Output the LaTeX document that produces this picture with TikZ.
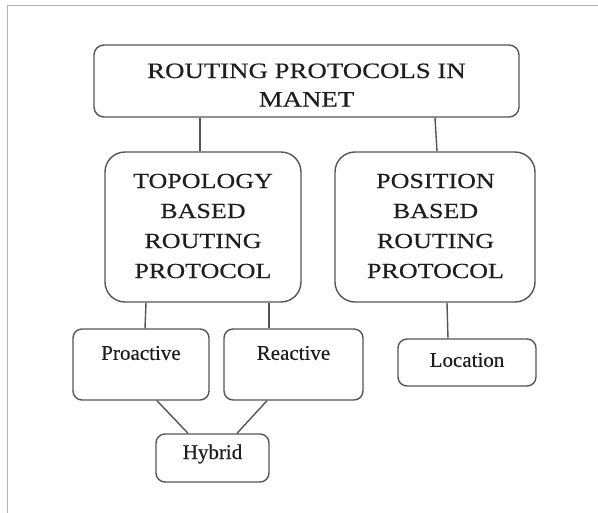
\documentclass[tikz,border=0pt]{standalone}
\usepackage{fontspec}
\setmainfont[FakeBold=0.35]{Liberation Serif}
\newfontfamily\widefont[FakeStretch=1.21,FakeBold=0.35]{Liberation Serif}
\newfontfamily\topfont[FakeStretch=1.22,FakeBold=0.35]{Liberation Serif}
\definecolor{linec}{HTML}{555555}
\definecolor{framec}{HTML}{B4B4B4}
\definecolor{txtc}{HTML}{1E1E1E}
\begin{document}
\begin{tikzpicture}[x=1pt,y=-1pt,
  bigbox/.style={draw=linec, line width=1.4pt, rounded corners=10pt, inner sep=0pt},
  midbox/.style={draw=linec, line width=1.4pt, rounded corners=20pt, inner sep=0pt, minimum width=196pt, minimum height=150pt},
  smallbox/.style={draw=linec, line width=1.4pt, rounded corners=9pt, inner sep=0pt},
  toptxt/.style={text=txtc, align=center, font=\topfont\fontsize{22}{28.5}\selectfont, inner sep=0pt},
  midtxt/.style={text=txtc, align=center, font=\widefont\fontsize{21.5}{30}\selectfont, inner sep=0pt},
  lowtxt/.style={text=txtc, align=center, font=\fontsize{21}{25}\selectfont, inner sep=0pt},
  conn/.style={draw=linec, line width=1.4pt}]
\useasboundingbox (0,0) rectangle (598,513);
% frame
\draw[framec, line width=1.6pt] (7.5,513) -- (7.5,5.5) -- (598,5.5);
% top
\node[bigbox, minimum width=425pt, minimum height=72pt] (top) at (306.5,81) {};
\node[toptxt] (toplbl) at (306.5,85) {ROUTING PROTOCOLS IN\\MANET};
% middle
\node[midbox] (topo) at (203,227) {};
\node[midtxt] (topolbl) at (203,226) {TOPOLOGY\\BASED\\ROUTING\\PROTOCOL};
\node[midbox, minimum width=200pt] (pos) at (435,227) {};
\node[midtxt] (poslbl) at (435.5,226) {POSITION\\BASED\\ROUTING\\PROTOCOL};
% bottom
\node[smallbox, minimum width=136pt, minimum height=71pt] (pro) at (141,364.5) {};
\node[lowtxt] (prolbl) at (141,353) {Proactive};
\node[smallbox, minimum width=139pt, minimum height=71pt] (rea) at (293.5,364.5) {};
\node[lowtxt] (realbl) at (293.5,353) {Reactive};
\node[smallbox, minimum width=138pt, minimum height=47pt] (loc) at (467,362.5) {};
\node[lowtxt] (loclbl) at (467,360) {Location};
\node[smallbox, minimum width=113pt, minimum height=48pt] (hyb) at (212.5,458) {};
\node[lowtxt] (hyblbl) at (212.5,454) {Hybrid};
% connectors
\draw[conn] ([xshift=-106.5pt]top.south) -- ([xshift=-3pt]topo.north);
\draw[conn] ([xshift=128.5pt]top.south) -- ([xshift=2pt]pos.north);
\draw[conn] ([xshift=-57pt]topo.south) -- ([xshift=4pt]pro.north);
\draw[conn] ([xshift=66pt]topo.south) -- ([xshift=-24.5pt]rea.north);
\draw[conn] ([xshift=12pt]pos.south) -- ([xshift=-19pt]loc.north);
\draw[conn] ([xshift=16pt]pro.south) -- ([xshift=-24.5pt]hyb.north);
\draw[conn] ([xshift=-26.5pt]rea.south) -- ([xshift=24.5pt]hyb.north);
\end{tikzpicture}
\end{document}
